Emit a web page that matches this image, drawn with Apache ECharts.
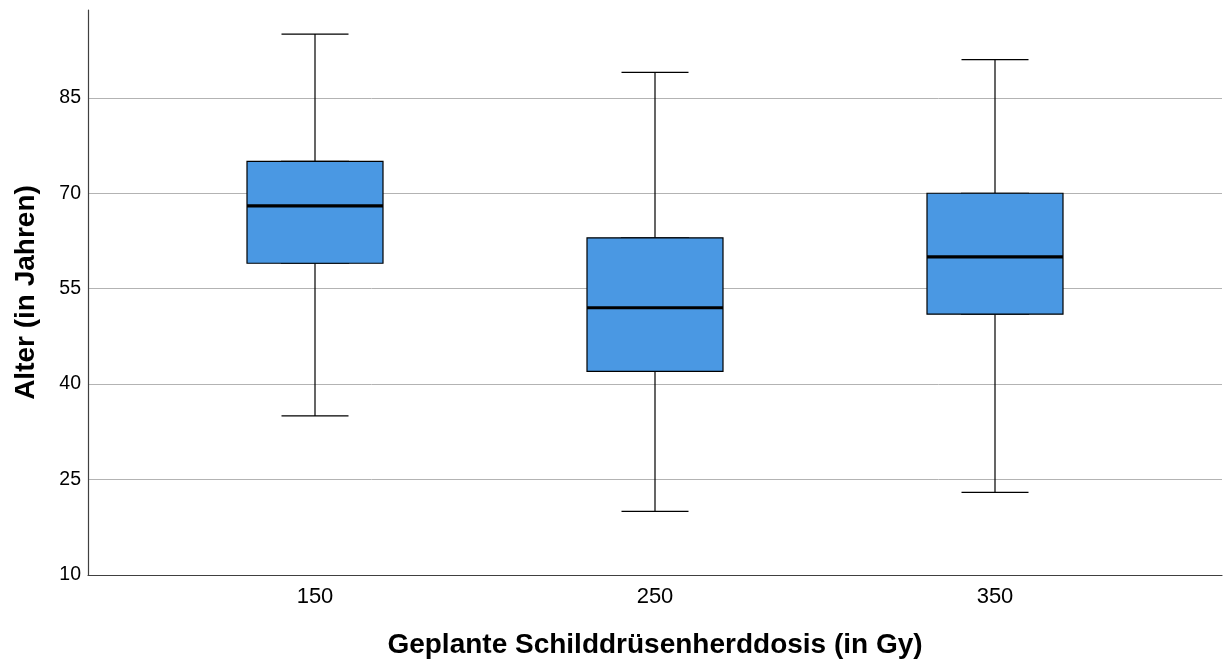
<!DOCTYPE html>
<html>
<head>
<meta charset="utf-8">
<script src="https://cdn.jsdelivr.net/npm/echarts@6/dist/echarts.min.js"></script>
<style>html,body{margin:0;padding:0;background:#fff;}#c{width:1224px;height:659px;}</style>
</head>
<body>
<div id="c"></div>
<script>
const categories = ['150', '250', '350'];
// [min, Q1, median, Q3, max]
const boxValues = [
  [35, 59, 68, 75, 95],
  [20, 42, 52, 63, 89],
  [23, 51, 60, 70, 91]
];
const yTicks = { min: 10, max: 98.8, interval: 15 };
const xTitle = 'Geplante Schilddrüsenherddosis (in Gy)';
const yTitle = 'Alter (in Jahren)';

const whiskerData = boxValues.map(v => v.slice());
const bodyData = boxValues.map(v => [v[1], v[1], v[2], v[3], v[3]]);
const medianData = boxValues.map(v => [v[2], v[2], v[2], v[2], v[2]]);

const FONT = '"Liberation Sans", Arial, sans-serif';
const chart = echarts.init(document.getElementById('c'), null, { renderer: 'canvas' });

const catAxis = (show) => ({
  type: 'category', gridIndex: 1, data: categories, show: show,
  axisLine: { show: false }, axisTick: { show: false },
  axisLabel: { show: show, fontSize: 22, color: '#000', fontFamily: FONT, margin: 11 },
  splitLine: { show: false }
});

chart.setOption({
  animation: false,
  backgroundColor: '#fff',
  grid: [
    { left: 88, right: 2, top: 10, bottom: 84, containLabel: false, outerBoundsMode: 'none' },
    { left: 145, right: 59, top: 10, bottom: 84, containLabel: false, outerBoundsMode: 'none' }
  ],
  xAxis: [
    {
      type: 'value', gridIndex: 0, min: 0, max: 1,
      axisLine: { show: true, lineStyle: { color: '#404040', width: 1.2 } },
      axisTick: { show: false }, axisLabel: { show: false }, splitLine: { show: false },
      name: xTitle, nameLocation: 'middle', nameGap: 56,
      nameTextStyle: { fontSize: 28, fontWeight: 'bold', color: '#000', fontFamily: FONT }
    },
    catAxis(true), catAxis(false), catAxis(false)
  ],
  yAxis: [
    {
      type: 'value', gridIndex: 0, min: yTicks.min, max: yTicks.max, interval: yTicks.interval,
      axisLine: { show: true, lineStyle: { color: '#404040', width: 1.2 } },
      axisTick: { show: false },
      axisLabel: { fontSize: 19.5, color: '#000', fontFamily: FONT, margin: 7, showMaxLabel: false },
      splitLine: { show: true, showMaxLine: false, showMinLine: false, lineStyle: { color: '#b3b3b3', width: 1 } },
      name: yTitle, nameLocation: 'middle', nameGap: 48,
      nameTextStyle: { fontSize: 28, fontWeight: 'bold', color: '#000', fontFamily: FONT }
    },
    {
      type: 'value', gridIndex: 1, min: yTicks.min, max: yTicks.max, interval: yTicks.interval, show: false,
      splitLine: { show: false }
    }
  ],
  series: [
    {
      type: 'boxplot', xAxisIndex: 1, yAxisIndex: 1, data: whiskerData, boxWidth: [67, 67], z: 2,
      itemStyle: { color: '#fff', borderColor: '#000', borderWidth: 1.2 }, silent: true
    },
    {
      type: 'boxplot', xAxisIndex: 2, yAxisIndex: 1, data: bodyData, boxWidth: [136, 136], z: 3,
      itemStyle: { color: '#4a98e3', borderColor: '#000', borderWidth: 1.2 }, silent: true
    },
    {
      type: 'boxplot', xAxisIndex: 3, yAxisIndex: 1, data: medianData, boxWidth: [136, 136], z: 4,
      itemStyle: { color: 'none', borderColor: '#000', borderWidth: 3.2 }, silent: true
    }
  ]
});
</script>
</body>
</html>
